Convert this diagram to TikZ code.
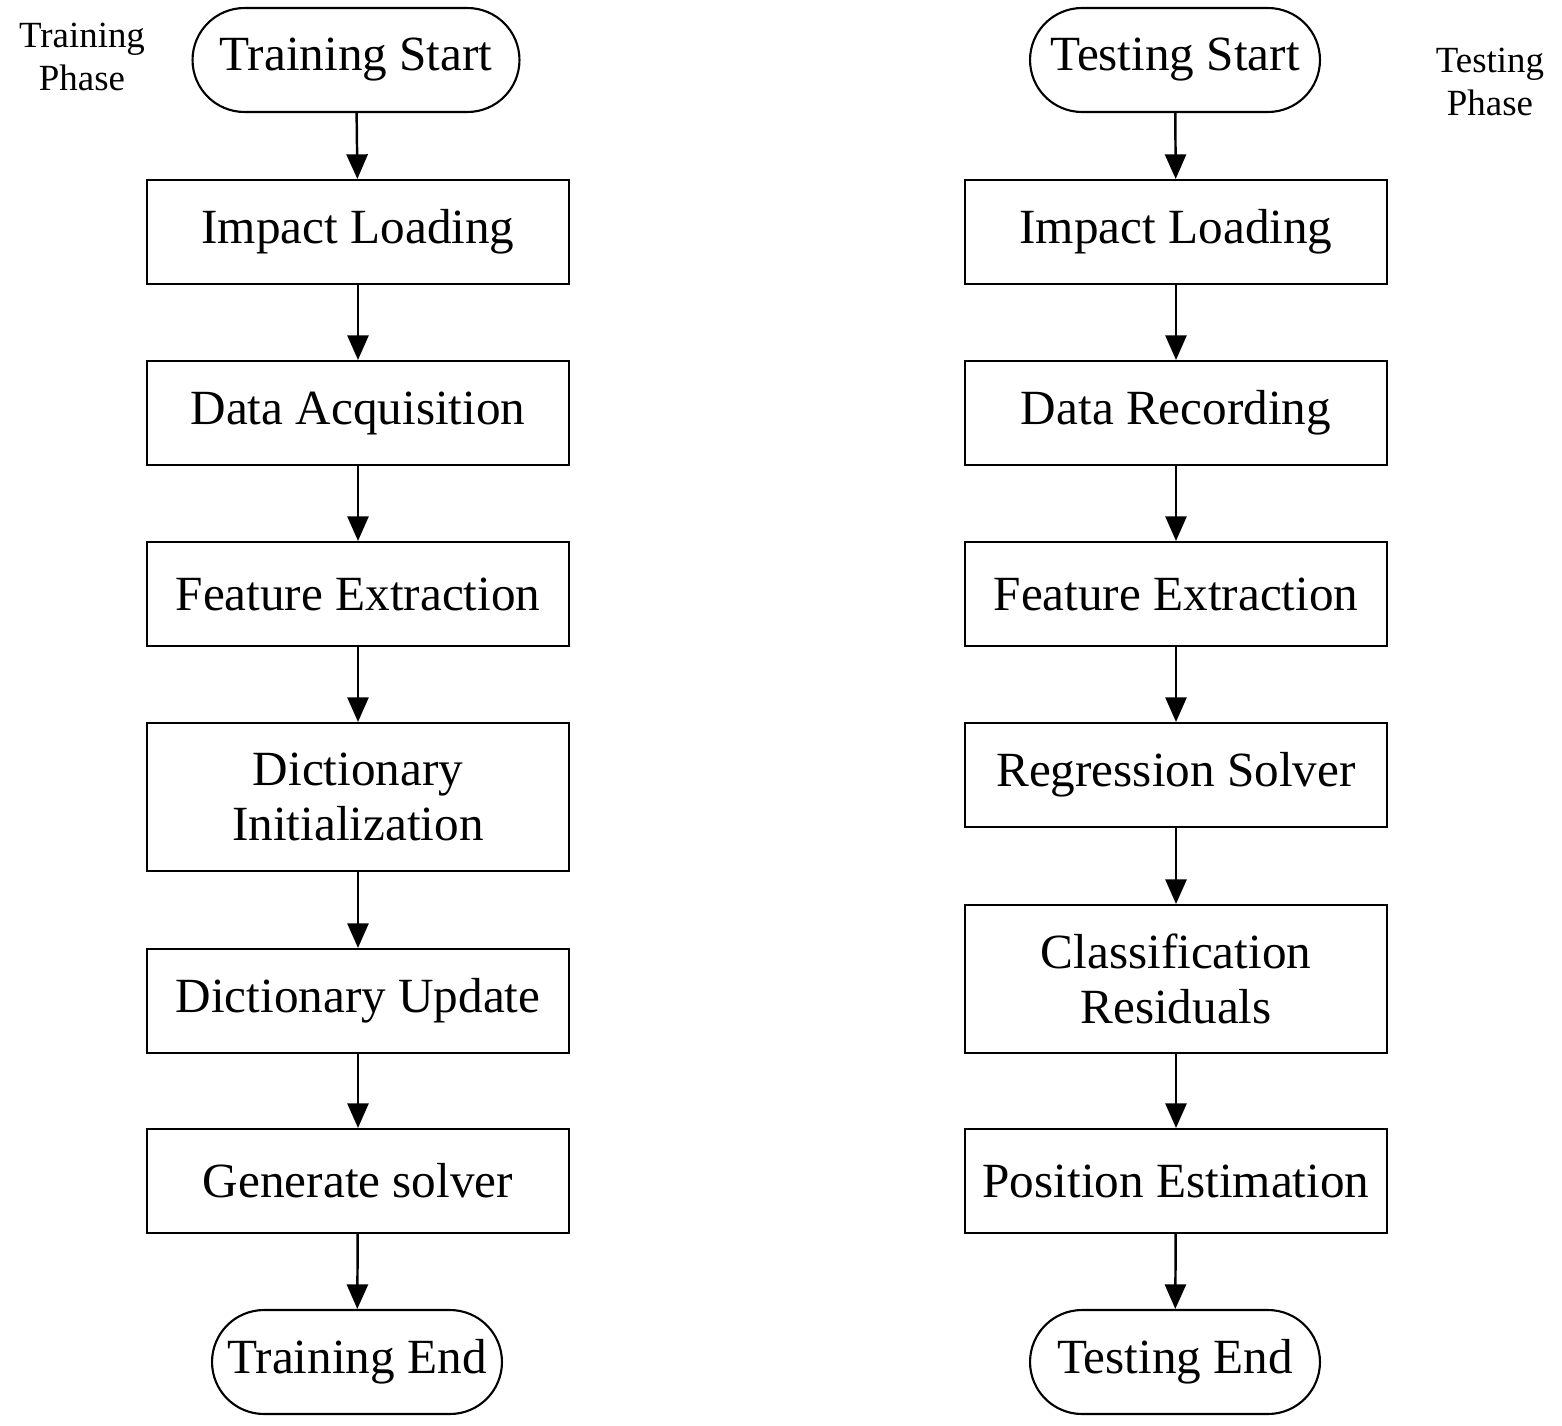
\documentclass[tikz,border=0pt]{standalone}
\usepackage{fontspec}
\setmainfont{Liberation Serif}
\usetikzlibrary{arrows.meta}
\begin{document}
\begin{tikzpicture}[x=0.02cm,y=-0.02cm,
  box/.style={draw,line width=1.2pt,minimum width=8.44cm,minimum height=2.08cm,align=center,font=\fontsize{28}{31}\selectfont,inner sep=0pt},
  tall/.style={box,minimum height=2.96cm},
  term/.style={draw,line width=1.2pt,rounded corners=1.04cm,minimum height=2.08cm,font=\fontsize{28}{31}\selectfont,inner sep=0pt},
  lab/.style={align=center,font=\fontsize{21}{25}\selectfont},
  arr/.style={-{Triangle[length=14pt,width=12pt]},line width=1.4pt}]
\useasboundingbox (0,0) rectangle (1562,1426);
\node[term,minimum width=6.54cm] (ts) at (356,60) {Training Start};
\node[box] (l1) at (358,232) {Impact Loading};
\node[box] (l2) at (358,413) {Data Acquisition};
\node[box] (l3) at (358,594) {Feature Extraction};
\node[tall] (l4) at (358,797) {Dictionary\\Initialization};
\node[box] (l5) at (358,1001) {Dictionary Update};
\node[box] (l6) at (358,1181) {Generate solver};
\node[term,minimum width=5.8cm] (te) at (357,1362) {Training End};
\node[term,minimum width=5.8cm] (ss) at (1175,60) {Testing Start};
\node[box] (r1) at (1176,232) {Impact Loading};
\node[box] (r2) at (1176,413) {Data Recording};
\node[box] (r3) at (1176,594) {Feature Extraction};
\node[box] (r4) at (1176,775) {Regression Solver};
\node[tall] (r5) at (1176,979) {Classification\\Residuals};
\node[box] (r6) at (1176,1181) {Position Estimation};
\node[term,minimum width=5.8cm] (se) at (1175,1362) {Testing End};
\node[lab] (tp) at (82,57) {Training\\Phase};
\node[lab] (sp) at (1490,82) {Testing\\Phase};
\foreach \a/\b in {ts/l1,l1/l2,l2/l3,l3/l4,l4/l5,l5/l6,l6/te,ss/r1,r1/r2,r2/r3,r3/r4,r4/r5,r5/r6,r6/se}
  \draw[arr] (\a) -- (\b);
\end{tikzpicture}
\end{document}
